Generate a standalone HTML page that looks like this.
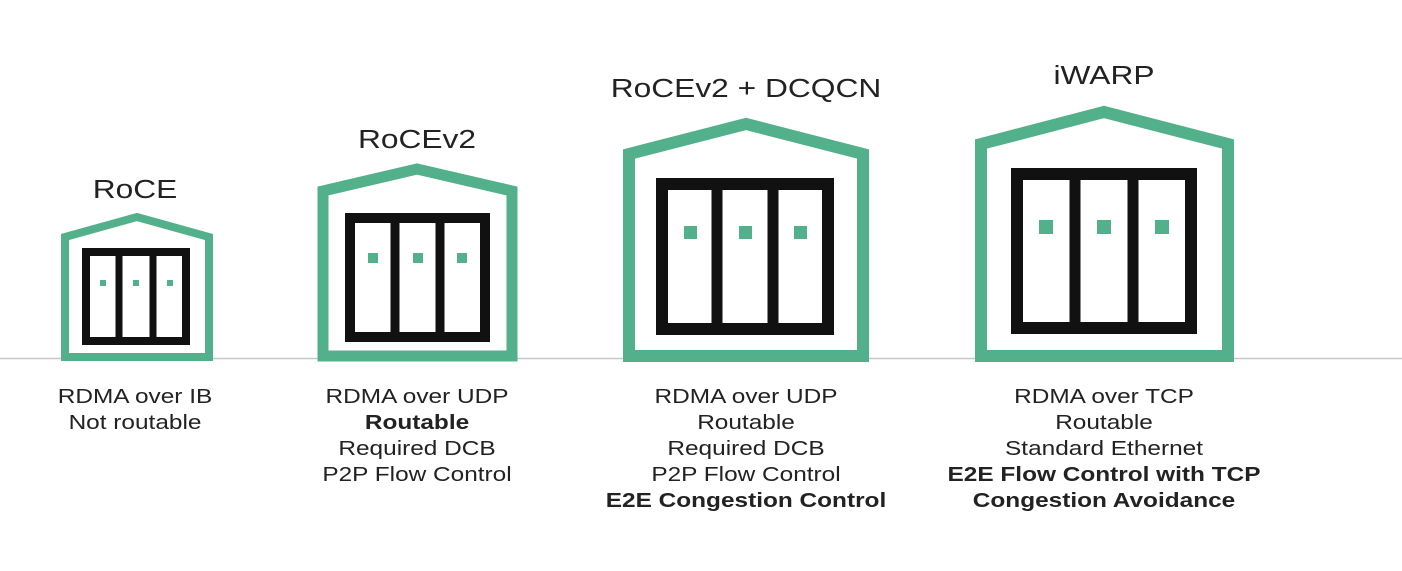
<!DOCTYPE html>
<html><head><style>
html,body{margin:0;padding:0;background:#fff;}
svg{display:block;}
text{font-family:"Liberation Sans",Arial,sans-serif;fill:#222;}
.t{font-size:26px;}
.b{font-size:20px;}
.bb{font-size:20px;font-weight:bold;}
</style></head><body>
<svg width="1402" height="571" viewBox="0 0 1402 571" xmlns="http://www.w3.org/2000/svg">
<line x1="0" y1="358.5" x2="1402" y2="358.5" stroke="#c8c8c8" stroke-width="1.5"/>
<g fill="none" stroke="#52b08a" stroke-linejoin="miter">
<polygon points="65,237 137,217 209,237 209,357 65,357" stroke-width="8"/>
<polygon points="323,191 417,169 512,191 512,356 323,356" stroke-width="11"/>
<polygon points="629,154 746,124 863,154 863,356 629,356" stroke-width="12"/>
<polygon points="981,144 1104,112 1228,144 1228,356 981,356" stroke-width="12"/>
</g>
<g fill="none" stroke="#111">
<rect x="86" y="252" width="100" height="89" stroke-width="8"/>
<line x1="119" y1="252" x2="119" y2="341" stroke-width="7"/>
<line x1="153" y1="252" x2="153" y2="341" stroke-width="7"/>
<rect x="350" y="218" width="135" height="119" stroke-width="10"/>
<line x1="395" y1="218" x2="395" y2="337" stroke-width="9"/>
<line x1="440" y1="218" x2="440" y2="337" stroke-width="9"/>
<rect x="662" y="184" width="166" height="145" stroke-width="12"/>
<line x1="717" y1="184" x2="717" y2="329" stroke-width="11"/>
<line x1="773" y1="184" x2="773" y2="329" stroke-width="11"/>
<rect x="1017" y="174" width="174" height="154" stroke-width="12"/>
<line x1="1075" y1="174" x2="1075" y2="328" stroke-width="11"/>
<line x1="1133" y1="174" x2="1133" y2="328" stroke-width="11"/>
</g>
<g fill="#52b08a">
<rect x="100" y="280" width="6" height="6"/><rect x="133" y="280" width="6" height="6"/><rect x="167" y="280" width="6" height="6"/>
<rect x="368" y="253" width="10" height="10"/><rect x="413" y="253" width="10" height="10"/><rect x="457" y="253" width="10" height="10"/>
<rect x="684" y="226" width="13" height="13"/><rect x="739" y="226" width="13" height="13"/><rect x="794" y="226" width="13" height="13"/>
<rect x="1039" y="220" width="14" height="14"/><rect x="1097" y="220" width="14" height="14"/><rect x="1155" y="220" width="14" height="14"/>
</g>
<g text-anchor="middle" transform="translate(135,0) scale(1.22,1)">
<text class="t" x="0" y="198">RoCE</text>
<text class="b" x="0" y="403">RDMA over IB</text>
<text class="b" x="0" y="429">Not routable</text>
</g>
<g text-anchor="middle" transform="translate(417,0) scale(1.22,1)">
<text class="t" x="0" y="148">RoCEv2</text>
<text class="b" x="0" y="403">RDMA over UDP</text>
<text class="bb" x="0" y="429">Routable</text>
<text class="b" x="0" y="455">Required DCB</text>
<text class="b" x="0" y="481">P2P Flow Control</text>
</g>
<g text-anchor="middle" transform="translate(746,0) scale(1.22,1)">
<text class="t" x="0" y="97">RoCEv2 + DCQCN</text>
<text class="b" x="0" y="403">RDMA over UDP</text>
<text class="b" x="0" y="429">Routable</text>
<text class="b" x="0" y="455">Required DCB</text>
<text class="b" x="0" y="481">P2P Flow Control</text>
<text class="bb" x="0" y="507">E2E Congestion Control</text>
</g>
<g text-anchor="middle" transform="translate(1104,0) scale(1.22,1)">
<text class="t" x="0" y="84">iWARP</text>
<text class="b" x="0" y="403">RDMA over TCP</text>
<text class="b" x="0" y="429">Routable</text>
<text class="b" x="0" y="455">Standard Ethernet</text>
<text class="bb" x="0" y="481">E2E Flow Control with TCP</text>
<text class="bb" x="0" y="507">Congestion Avoidance</text>
</g>
</svg>
</body></html>
